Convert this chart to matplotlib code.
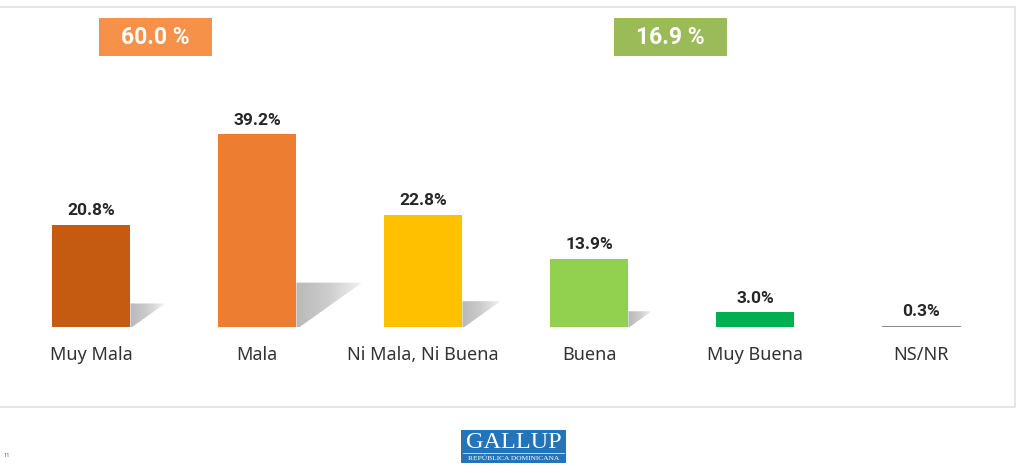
import numpy as np
import matplotlib.pyplot as plt
from matplotlib.patches import Rectangle, Polygon
from matplotlib.colors import LinearSegmentedColormap

categories = ["Muy Mala", "Mala", "Ni Mala, Ni Buena", "Buena", "Muy Buena", "NS/NR"]
values = [20.8, 39.2, 22.8, 13.9, 3.0, 0.3]
value_labels = ["20.8%", "39.2%", "22.8%", "13.9%", "3.0%", "0.3%"]
bar_colors = ["#C55A11", "#ED7D31", "#FFC000", "#92D050", "#00B050", "#8C8C8C"]
summary_labels = ["60.0 %", "16.9 %"]
summary_colors = ["#F59149", "#9BBB59"]

W, H = 1024, 473
plt.rcParams["font.family"] = ["Noto Sans", "DejaVu Sans"]
BOLD = ["Roboto", "DejaVu Sans"]
fig = plt.figure(figsize=(W / 100, H / 100), dpi=100)


def fx(px):
    return px / W


def fy(py):
    # pixel y measured from the top
    return 1 - py / H


# panel frame
fig.add_artist(Rectangle((fx(-5), fy(407)), fx(1020), 400 / H, transform=fig.transFigure,
                         facecolor="white", edgecolor="#E2E2E2", lw=1.2, zorder=0))

# bars axes: centres 166 px apart, 4.92 px per percent, baseline at y=327
ax = fig.add_axes([fx(8), fy(327), fx(996), 246 / H])
ax.set_xlim(-0.5, 5.5)
ax.set_ylim(0, 50)
ax.axis("off")

bw = 0.475
x = np.arange(len(categories))
ppu_x, ppu_y = 166.0, 4.92

shadow_cmap = LinearSegmentedColormap.from_list("shadow", ["#B9B9B9", "#CDCDCD", "#F2F2F2"])
grad = np.linspace(0, 1, 64).reshape(1, -1)
for i, v in enumerate(values):
    if v < 5:
        continue
    hp = v * ppu_y
    xr = x[i] + bw / 2
    dx = 0.34 * hp / ppu_x
    dy = 0.23 * v
    poly = Polygon([(xr, 0), (xr, dy), (xr + dx, dy), (xr + 0.05 * dx, 0)],
                   closed=True, facecolor="none", edgecolor="none")
    ax.add_patch(poly)
    im = ax.imshow(grad, cmap=shadow_cmap, vmin=0, vmax=1, aspect="auto",
                   extent=[xr, xr + dx, 0, dy], zorder=1, interpolation="bilinear")
    im.set_clip_path(poly)

bars = ax.bar(x, values, width=bw, color=bar_colors, zorder=2)
bars[-1].set_linewidth(0.8)
bars[-1].set_edgecolor("#8C8C8C")

for i, v in enumerate(values):
    ax.text(x[i], v + 1.3, value_labels[i], ha="center", va="bottom",
            fontsize=12.5, fontweight="bold", family=BOLD, color="#262626")
    ax.text(x[i], -3.9, categories[i], ha="center", va="top",
            fontsize=13, color="#333333", clip_on=False)

ax.set_xlim(-0.5, 5.5)
ax.set_ylim(0, 50)

# summary boxes
for (x0, x1), lab, col in zip([(99, 212), (614, 727)], summary_labels, summary_colors):
    fig.add_artist(Rectangle((fx(x0), fy(56)), fx(x1 - x0), 38 / H, transform=fig.transFigure,
                             facecolor=col, edgecolor="none"))
    fig.text(fx((x0 + x1) / 2), fy(38), lab, ha="center", va="center",
             fontsize=16.5, fontweight="bold", family=BOLD, color="white")

# logo
fig.add_artist(Rectangle((fx(461), fy(463)), fx(105), 33 / H, transform=fig.transFigure,
                         facecolor="#2275BB", edgecolor="none"))
fig.text(fx(513.5), fy(442), "GALLUP", ha="center", va="center", fontsize=17.5,
         family=["Liberation Serif", "DejaVu Serif"], color="white")
fig.add_artist(plt.Line2D([fx(463), fx(564)], [fy(453), fy(453)], transform=fig.transFigure,
                          color="white", lw=0.5))
fig.text(fx(513.5), fy(458), "REPÚBLICA DOMINICANA", ha="center", va="center", fontsize=5.4,
         family=["Liberation Serif", "DejaVu Serif"], color="white")

fig.text(fx(4), fy(455), "11", ha="left", va="center", fontsize=4, color="#555555")

fig.savefig("out.png", dpi=100, facecolor="white")
